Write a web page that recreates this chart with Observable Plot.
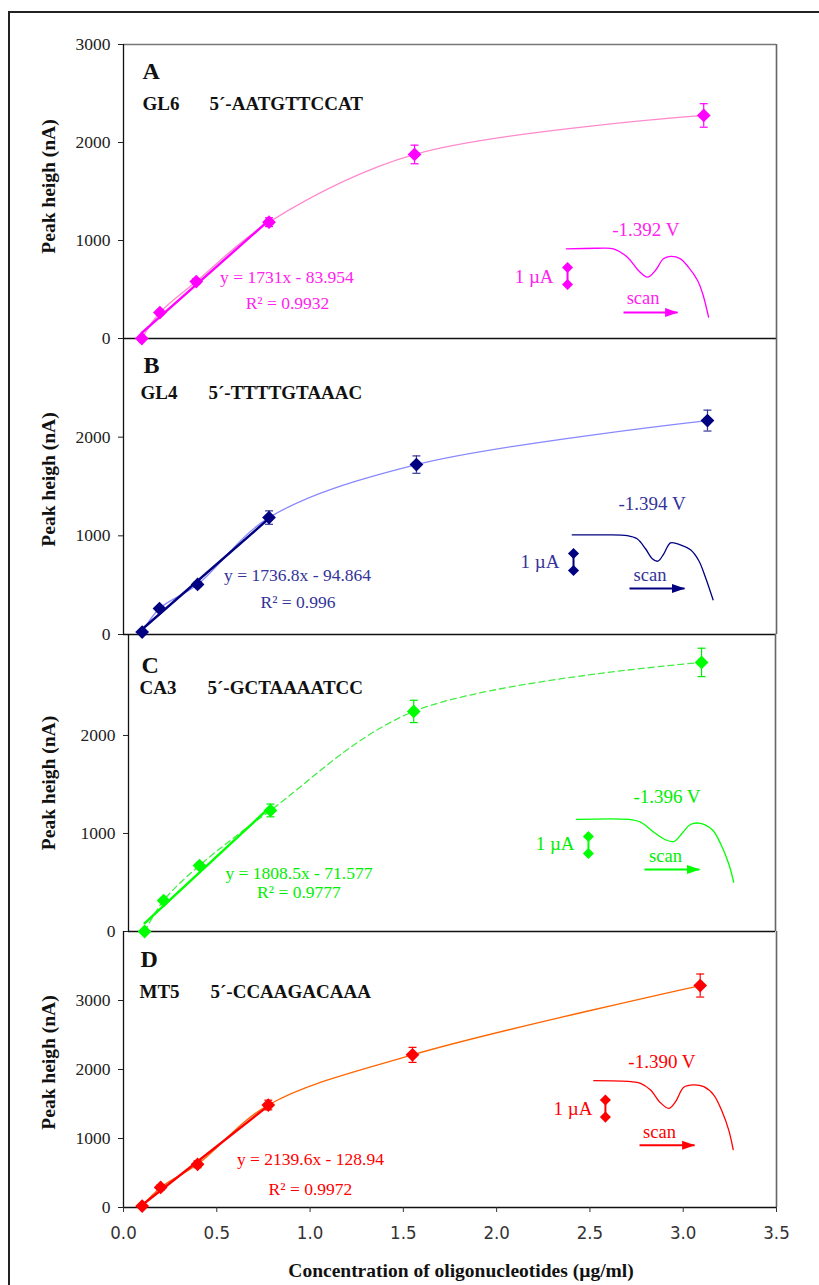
<!DOCTYPE html>
<html><head><meta charset="utf-8">
<script src="https://cdn.jsdelivr.net/npm/d3@7"></script>
<script src="https://cdn.jsdelivr.net/npm/@observablehq/plot@0.6"></script>
<style>
body{margin:0;background:#fff;}
#wrap{position:relative;width:819px;height:1285px;overflow:hidden;background:#fff;}
#border{position:absolute;left:8px;top:11px;width:900px;height:1400px;border-top:2px solid #222;border-left:2px solid #222;}
.panel{position:absolute;left:0;}
.panel svg text{font-family:'Liberation Serif','Times New Roman',serif;}
.panel svg g[aria-label="x-axis tick label"] text{font-family:'Liberation Sans Narrow','Arial Narrow','DejaVu Sans Condensed','Liberation Sans',sans-serif;font-stretch:condensed;}
</style></head><body><div id="wrap"><div id="border"></div></div>
<script>
// ---------------- data ----------------
const panelLetters = ["A", "B", "C", "D"];
const probeNames = ["GL6", "GL4", "CA3", "MT5"];
const sequences = ["5´-AATGTTCCAT", "5´-TTTTGTAAAC", "5´-GCTAAAATCC", "5´-CCAAGACAAA"];
const yTitle = "Peak heigh (nA)";
const xTitle = "Concentration of oligonucleotides (µg/ml)";
const xTicks = [0, 0.5, 1, 1.5, 2, 2.5, 3, 3.5];
const yTicksA = [0, 1000, 2000, 3000];
const yTicksB = [0, 1000, 2000];
const yTicksC = [0, 1000, 2000];
const yTicksD = [0, 1000, 2000, 3000];

// concentration (µg/ml), peak height (nA), error (nA)
const concA = [0.098, 0.195, 0.39, 0.78, 1.56, 3.11];
const peakA = [0, 265, 581, 1187, 1878, 2276];
const errA  = [15, 25, 30, 45, 95, 120];
const concB = [0.10, 0.193, 0.397, 0.78, 1.57, 3.13];
const peakB = [25, 263, 507, 1185, 1722, 2168];
const errB  = [15, 20, 25, 68, 88, 106];
const concC = [0.087, 0.19, 0.384, 0.768, 1.543, 3.10];
const peakC = [0, 316, 673, 1235, 2245, 2745];
const errC  = [10, 20, 25, 65, 114, 145];
const concD = [0.10, 0.199, 0.397, 0.776, 1.549, 3.091];
const peakD = [20, 291, 626, 1485, 2212, 3217];
const errD  = [15, 40, 50, 70, 109, 167];

// labels of the linear fits of the first four points
const fitLabels = ["y = 1731x - 83.954", "y = 1736.8x - 94.864", "y = 1808.5x - 71.577", "y = 2139.6x - 128.94"];
const r2Labels = ["R² = 0.9932", "R² = 0.996", "R² = 0.9777", "R² = 0.9972"];
const peakPotentials = ["-1.392 V", "-1.394 V", "-1.396 V", "-1.390 V"];
const currentLabel = "1 µA";
const scanLabel = "scan";

// inset voltammograms (in each panel's data units)
const voltA = [[2.374,915],[2.541,921],[2.626,915],[2.701,830],[2.760,694],[2.809,626],[2.851,694],[2.894,813],[2.932,837],[2.985,813],[3.028,728],[3.077,592],[3.104,459],[3.136,218]];
const voltB = [[2.405,1010],[2.556,1010],[2.700,1003],[2.753,970],[2.798,869],[2.834,768],[2.864,743],[2.896,818],[2.932,929],[2.985,909],[3.039,858],[3.083,750],[3.119,581],[3.160,352]];
const voltC = [[2.423,1143],[2.706,1143],[2.770,1115],[2.842,1013],[2.905,936],[2.950,918],[2.995,1003],[3.040,1092],[3.085,1105],[3.158,1038],[3.203,895],[3.247,691],[3.274,503]];
const voltD = [[2.521,1838],[2.718,1824],[2.771,1800],[2.825,1703],[2.878,1518],[2.923,1437],[2.959,1533],[3.003,1742],[3.057,1776],[3.110,1751],[3.164,1630],[3.209,1387],[3.244,1121],[3.268,840]];

// annotation anchors (data units)
const eqXY   = [[0.876, 571], [0.933, 547], [0.922, 531], [1.002, 611]];
const r2XY   = [[0.879, 306], [0.935, 264], [0.922, 337], [1.002, 175]];
const voltXY = [[2.80, 1051], [2.833, 1257], [2.913, 1306], [2.886, 2023]];
const uaXY   = [[2.305, 571], [2.337, 669], [2.413, 827], [2.514, 1339]];
const barXY  = [[2.38, 724, 551], [2.412, 821, 649], [2.488, 969, 796], [2.583, 1557, 1310]];
const scanXY = [[2.785, 357], [2.822, 547], [2.905, 704], [2.873, 1004]];
const arrowXY = [[2.68, 2.97, 265], [2.712, 3.007, 466], [2.791, 3.089, 633], [2.766, 3.061, 902]];

// ---------------- drawing ----------------
const serif = "'Liberation Serif','Times New Roman',serif";
const narrow = "'Liberation Sans Narrow','Arial Narrow','Liberation Sans',sans-serif";
const capSymbol = {draw(ctx, size) { const w = Math.sqrt(size / Math.PI); ctx.moveTo(-w, 0); ctx.lineTo(w, 0); }};
const headSymbol = {draw(ctx, size) { const r = Math.sqrt(size / Math.PI); ctx.moveTo(r, 0); ctx.lineTo(-r, -0.7 * r); ctx.lineTo(-r, 0.7 * r); ctx.closePath(); }};

const panels = [
  {i:0, top:44, bottom:338, left:123, right:776, yDomain:[0,3000], yTicks:yTicksA, conc:concA, peak:peakA, err:errA, curve:voltA,
   color:"#ff00ff", line:"#ff88cc", errColor:"#ff00ff", text:"#ff22ee", dashed:false, topEdge:true,
   letterD:[19,34], nameD:[19,65], seqD:[86,65], titleD:[-75,-5]},
  {i:1, top:338, bottom:634, left:123, right:776, yDomain:[0,3000], yTicks:yTicksB, conc:concB, peak:peakB, err:errB, curve:voltB,
   color:"#000080", line:"#8888ff", errColor:"#333399", text:"#333399", dashed:false,
   letterD:[20,34], nameD:[17,60], seqD:[85,60], titleD:[-75,-7]},
  {i:2, top:634, bottom:931, left:128, right:775, yDomain:[0,3030], yTicks:yTicksC, conc:concC, peak:peakC, err:errC, curve:voltC,
   color:"#00ff00", line:"#44ee44", errColor:"#00ee00", text:"#00ee00", dashed:true,
   letterD:[13,38], nameD:[11,59], seqD:[79,59], titleD:[-80,0]},
  {i:3, top:931, bottom:1207, left:123, right:776, yDomain:[0,4000], yTicks:yTicksD, conc:concD, peak:peakD, err:errD, curve:voltD,
   color:"#ff0000", line:"#ff6600", errColor:"#ff0000", text:"#ff0000", dashed:false, xAxis:true,
   letterD:[17,35], nameD:[16,66], seqD:[87,66], titleD:[-75,-7]}
];

const wrap = document.getElementById("wrap");
for (const p of panels) {
  const k = p.i;
  const pts = p.conc.map((x, j) => ({x, y: p.peak[j], lo: p.peak[j] - p.err[j], hi: p.peak[j] + p.err[j]}));
  const caps = pts.flatMap(d => [{x: d.x, y: d.lo}, {x: d.x, y: d.hi}]);
  const curve = p.curve.map(([x, y]) => ({x, y}));
  const [bx, by1, by2] = barXY[k];
  const [ax1, ax2, ay] = arrowXY[k];
  const txt = (str, xy, opts) => Plot.text([str], {x: () => xy[0], y: () => xy[1], text: d => d, fill: p.text, fontFamily: serif, lineAnchor: "bottom", ...opts});
  const marks = [
    p.topEdge ? Plot.ruleY([p.yDomain[1]], {stroke: "#777", strokeWidth: 1.6}) : null,
    Plot.ruleX([3.5], {stroke: "#666", strokeWidth: 1.6}),
    Plot.ruleY([0], {stroke: "#111", strokeWidth: 1.3}),
    Plot.ruleX([0], {stroke: "#111", strokeWidth: 1.3}),
    Plot.axisY(p.yTicks, {anchor: "left", tickSize: 5, tickPadding: 8, fontSize: 17.5, fontFamily: serif, tickFormat: d => String(d), label: null, color: "#222"}),
    Plot.text([yTitle], {frameAnchor: "left", textAnchor: "middle", rotate: -90, dx: p.titleD[0], dy: p.titleD[1], text: d => d, fontSize: 19.5, fontWeight: "bold", fontFamily: serif, fill: "#111"}),
    Plot.text([panelLetters[k]], {frameAnchor: "top-left", dx: p.letterD[0], dy: p.letterD[1], text: d => d, lineAnchor: "bottom", textAnchor: "start", fontSize: 24, fontWeight: "bold", fontFamily: serif, fill: "#111"}),
    Plot.text([probeNames[k]], {frameAnchor: "top-left", dx: p.nameD[0], dy: p.nameD[1], text: d => d, lineAnchor: "bottom", textAnchor: "start", fontSize: 19, fontWeight: "bold", fontFamily: serif, fill: "#111"}),
    Plot.text([sequences[k]], {frameAnchor: "top-left", dx: p.seqD[0], dy: p.seqD[1], text: d => d, lineAnchor: "bottom", textAnchor: "start", fontSize: 19, fontWeight: "bold", fontFamily: serif, fill: "#111"}),
    // connecting smoothed line
    Plot.line(pts, {x: "x", y: "y", stroke: p.line, strokeWidth: 1.3, curve: "catmull-rom", strokeDasharray: p.dashed ? "6,4" : null}),
    // error bars
    Plot.ruleX(pts, {x: "x", y1: "lo", y2: "hi", stroke: p.errColor, strokeWidth: 1.2}),
    Plot.dot(caps, {x: "x", y: "y", symbol: capSymbol, r: 4, fill: "none", stroke: p.errColor, strokeWidth: 1.2}),
    // linear regression of the first four points
    Plot.linearRegressionY(pts.slice(0, 4), {x: "x", y: "y", stroke: p.color, strokeWidth: 2.4, ci: 0}),
    // markers
    Plot.dot(pts, {x: "x", y: "y", symbol: "diamond2", r: 6.2, fill: p.color, stroke: "none"}),
    // equation labels
    txt(fitLabels[k], eqXY[k], {fontSize: 17.5}),
    txt(r2Labels[k], r2XY[k], {fontSize: 17.5}),
    // inset voltammogram
    Plot.line(curve, {x: "x", y: "y", stroke: p.color, strokeWidth: 1.3, curve: "catmull-rom"}),
    txt(peakPotentials[k], voltXY[k], {fontSize: 19}),
    txt(currentLabel, uaXY[k], {fontSize: 19, textAnchor: "end"}),
    Plot.link([0], {x1: () => bx, x2: () => bx, y1: () => by1, y2: () => by2, stroke: p.color, strokeWidth: 2}),
    Plot.dot([by1, by2], {x: () => bx, y: d => d, symbol: "diamond2", r: 5, fill: p.color, stroke: "none"}),
    txt(scanLabel, scanXY[k], {fontSize: 18.5}),
    Plot.link([0], {x1: () => ax1, x2: () => ax2, y1: () => ay, y2: () => ay, stroke: p.color, strokeWidth: 2}),
    Plot.dot([0], {x: () => ax2, y: () => ay, dx: -6, symbol: headSymbol, r: 6.5, fill: p.color, stroke: "none"})
  ];
  if (p.xAxis) {
    marks.push(Plot.axisX(xTicks, {anchor: "bottom", tickSize: 5, tickPadding: 13, fontSize: 18.5, fontFamily: narrow, tickFormat: d3.format(".1f"), label: null, color: "#333"}));
    marks.push(Plot.text([xTitle], {frameAnchor: "bottom", textAnchor: "middle", dx: 11, dy: 69, text: d => d, lineAnchor: "bottom", fontSize: 19.5, fontWeight: "bold", fontFamily: serif, fill: "#111"}));
  }
  const chart = Plot.plot({
    width: 819, height: p.bottom - p.top,
    marginLeft: p.left, marginRight: 819 - p.right, marginTop: 0, marginBottom: 0,
    x: p.xAxis ? {domain: [0, 3.5]} : {domain: [0, 3.5], axis: null},
    y: {domain: p.yDomain},
    style: {background: "transparent", overflow: "visible", fontFamily: serif},
    marks
  });
  const div = document.createElement("div");
  div.className = "panel";
  div.style.top = p.top + "px";
  div.appendChild(chart);
  wrap.appendChild(div);
}
</script></body></html>
